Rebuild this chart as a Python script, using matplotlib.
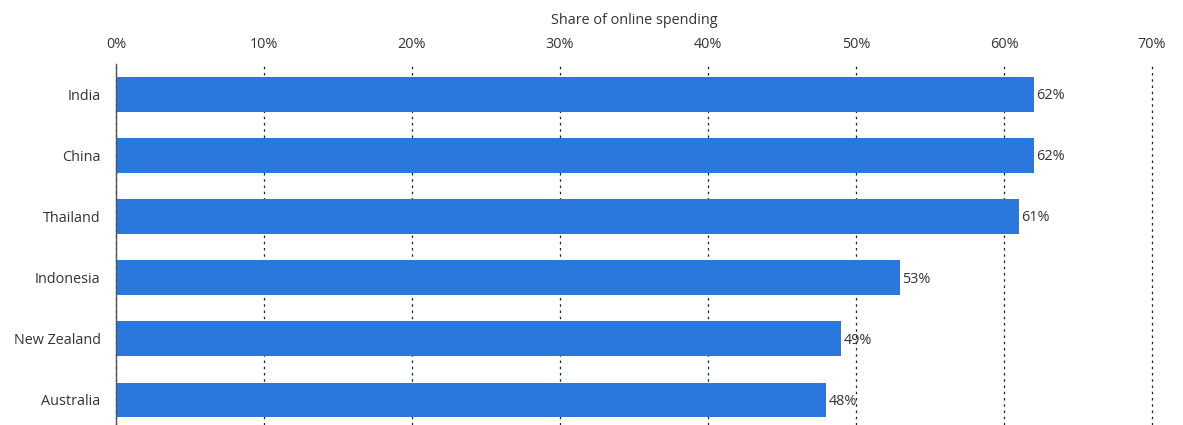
import matplotlib
matplotlib.use("Agg")
import matplotlib.pyplot as plt
from matplotlib.ticker import FuncFormatter, MultipleLocator

countries = ["India", "China", "Thailand", "Indonesia", "New Zealand", "Australia"]
values = [62, 62, 61, 53, 49, 48]
xlabel = "Share of online spending"

plt.rcParams['font.family'] = ['Open Sans', 'DejaVu Sans']
FS = 10.4
fig = plt.figure(figsize=(11.83, 4.25), dpi=100)
ax = fig.add_axes([116/1183, 0, (1152-116)/1183, (425-64)/425])

y = list(range(len(countries)))
ax.barh(y, values, height=0.57, color="#2a77dd", zorder=3)
for yi, v in zip(y, values):
    ax.text(v + 0.15, yi + 0.02, f"{v}%", va="center", ha="left", fontsize=FS, color="#333333", zorder=4)

ax.set_xlim(0, 70)
ax.set_ylim(5.41, -0.5)
ax.set_yticks(y)
ax.set_yticklabels(countries, fontsize=FS, color="#333333")
ax.xaxis.set_major_locator(MultipleLocator(10))
ax.xaxis.set_major_formatter(FuncFormatter(lambda v, p: f"{int(v)}%"))
ax.xaxis.tick_top()
ax.xaxis.set_label_position("top")
ax.set_xlabel(xlabel, fontsize=FS, color="#333333", labelpad=9)
ax.tick_params(axis="x", length=0, labelsize=FS, labelcolor="#333333", pad=9)
ax.tick_params(axis="y", length=0, pad=11)
ax.grid(axis="x", color="#222222", linestyle=(0, (2, 3)), linewidth=0.9, zorder=0)
for gl in ax.get_xgridlines():
    gl.set_clip_on(False)
for s in ["top", "right", "bottom"]:
    ax.spines[s].set_visible(False)
ax.spines["left"].set_color("#555555")
ax.spines["left"].set_linewidth(1.0)
ax.spines["left"].set_zorder(5)

fig.savefig("out.png", dpi=100)
